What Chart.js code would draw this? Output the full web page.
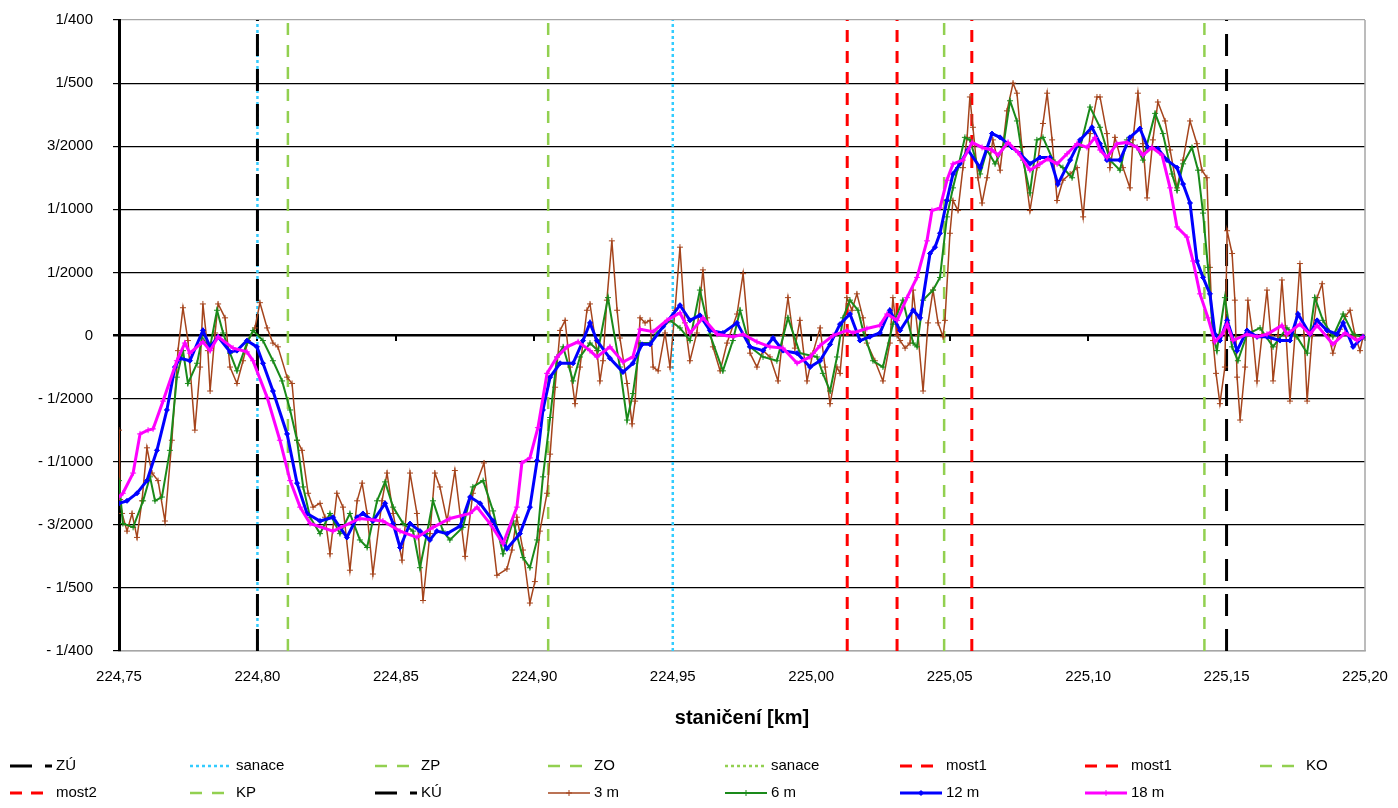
<!DOCTYPE html>
<html><head><meta charset="utf-8">
<script src="https://cdn.jsdelivr.net/npm/chart.js@4/dist/chart.umd.min.js"></script>
<style>html,body{margin:0;padding:0;background:#fff;}canvas{display:block}</style>
</head><body>
<canvas id="c" width="1398" height="808"></canvas>
<script>
// ---------- axis ticks (values in per mille) ----------
const Y_TICK_VALUES = [-2.5,-2,-1.5,-1,-0.5,0,0.5,1,1.5,2,2.5];
const Y_TICK_LABELS = ['- 1/400','- 1/500','- 3/2000','- 1/1000','- 1/2000','0','1/2000','1/1000','3/2000','1/500','1/400'];
const X_TICK_VALUES = [224.75,224.80,224.85,224.90,224.95,225.00,225.05,225.10,225.15,225.20];
const X_TICK_LABELS = ['224,75','224,80','224,85','224,90','224,95','225,00','225,05','225,10','225,15','225,20'];
const X_TITLE = 'staničení [km]';

// ---------- vertical marker lines (km) ----------
const MARKER_LABELS = ['ZÚ','sanace','ZP','ZO','sanace','most1','most1','KO','most2','KP','KÚ'];
const MARKER_KM = [[224.800],[224.800,224.950],[224.811],[224.905],[],[225.013],[225.031],[225.048],[225.058],[225.142],[225.150]];

// ---------- measured series ----------
const SERIES_LABELS = ['3 m','6 m','12 m','18 m'];

const S3_KM = [
224.7500,224.7504,224.7511,224.7529,224.7547,224.7565,224.7583,224.7601,224.7619,224.7641,
224.7666,224.7691,224.7713,224.7731,224.7749,224.7774,224.7793,224.7803,224.7821,224.7829,
224.7847,224.7858,224.7883,224.7901,224.7926,224.7948,224.7966,224.7991,224.8009,224.8035,
224.8056,224.8074,224.8107,224.8125,224.8143,224.8161,224.8183,224.8201,224.8226,224.8244,
224.8262,224.8287,224.8309,224.8334,224.8360,224.8378,224.8396,224.8417,224.8450,224.8468,
224.8490,224.8522,224.8551,224.8576,224.8598,224.8623,224.8641,224.8659,224.8685,224.8713,
224.8750,224.8778,224.8818,224.8865,224.8901,224.8919,224.8937,224.8959,224.8984,224.9002,
224.9020,224.9046,224.9057,224.9075,224.9093,224.9111,224.9129,224.9147,224.9165,224.9190,
224.9201,224.9226,224.9237,224.9248,224.9262,224.9280,224.9299,224.9309,224.9335,224.9353,
224.9364,224.9382,224.9400,224.9418,224.9429,224.9447,224.9472,224.9490,224.9508,224.9526,
224.9544,224.9562,224.9587,224.9609,224.9624,224.9645,224.9671,224.9696,224.9732,224.9754,
224.9779,224.9804,224.9826,224.9851,224.9880,224.9898,224.9916,224.9941,224.9959,224.9985,
225.0006,225.0032,225.0050,225.0068,225.0093,225.0104,225.0129,225.0147,225.0165,225.0187,
225.0201,225.0230,225.0259,225.0284,225.0295,225.0310,225.0321,225.0339,225.0357,225.0368,
225.0386,225.0404,225.0422,225.0440,225.0458,225.0476,225.0483,225.0501,225.0512,225.0530,
225.0548,225.0563,225.0573,225.0584,225.0602,225.0617,225.0635,225.0656,225.0682,225.0707,
225.0729,225.0743,225.0761,225.0790,225.0815,225.0837,225.0852,225.0870,225.0888,225.0909,
225.0935,225.0960,225.0982,225.1007,225.1032,225.1043,225.1068,225.1079,225.1097,225.1126,
225.1151,225.1162,225.1180,225.1198,225.1213,225.1234,225.1252,225.1278,225.1296,225.1321,
225.1343,225.1368,225.1393,225.1411,225.1429,225.1440,225.1451,225.1462,225.1476,225.1494,
225.1502,225.1520,225.1530,225.1538,225.1549,225.1567,225.1577,225.1595,225.1610,225.1628,
225.1646,225.1660,225.1668,225.1686,225.1700,225.1715,225.1729,225.1747,225.1765,225.1780,
225.1791,225.1809,225.1827,225.1845,225.1863,225.1884,225.1910,225.1928,225.1946,225.1964,
225.1982,225.1993];
const S3_VAL = [
-0.75,-1.3,-1.41,-1.55,-1.41,-1.6,-1.31,-0.89,-1.09,-1.15,
-1.47,-0.83,-0.12,0.22,-0.04,-0.75,-0.25,0.25,-0.12,-0.44,
0.02,0.25,0.14,-0.25,-0.38,-0.2,-0.04,0.06,0.26,0.06,
-0.06,-0.09,-0.33,-0.38,-0.83,-0.91,-1.25,-1.36,-1.33,-1.44,
-1.73,-1.25,-1.36,-1.86,-1.31,-1.17,-1.41,-1.89,-1.31,-1.09,
-1.41,-1.78,-1.09,-1.41,-2.1,-1.57,-1.09,-1.2,-1.47,-1.07,
-1.75,-1.25,-1.01,-1.9,-1.85,-1.7,-1.44,-1.7,-2.12,-1.95,
-1.55,-1.25,-0.94,-0.41,0.04,0.12,-0.25,-0.54,-0.25,0.2,
0.25,-0.12,-0.36,-0.2,0.28,0.75,0.2,-0.02,-0.38,-0.7,
-0.52,0.14,0.1,0.12,-0.25,-0.28,0.02,-0.25,0.2,0.7,
0.1,-0.2,0.02,0.52,0.14,-0.09,-0.28,-0.06,0.17,0.49,
-0.14,-0.25,-0.12,-0.17,-0.36,0.0,0.3,-0.1,0.12,-0.36,
-0.14,0.06,-0.25,-0.54,-0.25,-0.3,0.3,0.2,0.33,0.14,
-0.06,-0.2,-0.36,-0.06,0.3,0.0,-0.04,-0.1,-0.06,0.36,
0.0,-0.44,0.1,0.36,0.1,-0.01,0.12,0.81,1.07,0.99,
1.33,1.57,1.89,1.65,1.25,1.05,1.25,1.55,1.31,1.78,
2.0,1.92,1.49,0.99,1.33,1.68,1.92,1.55,1.07,1.23,
1.28,1.33,0.94,1.6,1.89,1.89,1.6,1.33,1.57,1.33,
1.17,1.55,1.92,1.52,1.09,1.55,1.85,1.7,1.47,1.17,
1.39,1.7,1.52,1.31,1.25,0.54,-0.04,-0.3,-0.54,-0.25,
0.83,0.65,0.28,-0.33,-0.67,-0.25,0.28,0.0,-0.36,0.0,
0.36,0.0,-0.36,0.0,0.44,0.0,-0.52,0.0,0.57,0.0,
-0.52,0.0,0.3,0.41,0.05,-0.14,0.05,0.15,0.2,0.0,
-0.12,-0.01];

const S6_KM = [
224.7500,224.7514,224.7551,224.7587,224.7612,224.7630,224.7655,224.7684,224.7709,224.7731,
224.7749,224.7782,224.7800,224.7829,224.7854,224.7876,224.7901,224.7926,224.7962,224.7984,
224.8020,224.8056,224.8089,224.8118,224.8143,224.8165,224.8190,224.8226,224.8262,224.8298,
224.8334,224.8370,224.8396,224.8432,224.8461,224.8490,224.8526,224.8562,224.8587,224.8612,
224.8634,224.8670,224.8695,224.8742,224.8778,224.8815,224.8851,224.8887,224.8923,224.8959,
224.8984,224.9010,224.9031,224.9057,224.9082,224.9104,224.9140,224.9165,224.9201,224.9230,
224.9266,224.9309,224.9335,224.9356,224.9382,224.9418,224.9443,224.9490,224.9526,224.9562,
224.9598,224.9634,224.9681,224.9717,224.9743,224.9779,224.9826,224.9876,224.9916,224.9959,
225.0021,225.0042,225.0068,225.0093,225.0115,225.0140,225.0169,225.0187,225.0223,225.0259,
225.0295,225.0331,225.0368,225.0382,225.0404,225.0440,225.0465,225.0490,225.0512,225.0530,
225.0555,225.0573,225.0610,225.0635,225.0664,225.0693,225.0718,225.0743,225.0765,225.0790,
225.0815,225.0837,225.0873,225.0909,225.0942,225.0971,225.1007,225.1043,225.1079,225.1115,
225.1140,225.1177,225.1198,225.1242,225.1270,225.1303,225.1321,225.1343,225.1375,225.1397,
225.1415,225.1433,225.1451,225.1465,225.1494,225.1520,225.1541,225.1574,225.1621,225.1668,
225.1718,225.1754,225.1791,225.1819,225.1848,225.1884,225.1921,225.1957,225.1989];
const S6_VAL = [
-1.15,-1.49,-1.52,-1.31,-1.12,-1.31,-1.28,-0.91,-0.33,-0.12,
-0.38,-0.22,-0.02,-0.09,0.2,0.02,-0.14,-0.28,-0.06,0.04,
-0.04,-0.2,-0.36,-0.59,-0.83,-1.2,-1.44,-1.57,-1.41,-1.57,
-1.41,-1.62,-1.68,-1.31,-1.16,-1.36,-1.49,-1.55,-1.84,-1.57,
-1.31,-1.55,-1.62,-1.52,-1.2,-1.15,-1.39,-1.73,-1.47,-1.76,
-1.84,-1.62,-1.12,-0.65,-0.17,-0.09,-0.36,-0.17,-0.06,-0.12,
0.3,-0.25,-0.67,-0.46,-0.06,-0.06,0.02,0.12,0.06,-0.04,
0.36,0.01,-0.28,-0.04,0.2,-0.09,-0.17,-0.2,0.14,-0.14,
-0.17,-0.3,-0.44,-0.17,0.14,0.28,0.2,0.04,-0.2,-0.25,
0.09,0.28,-0.06,-0.09,0.28,0.36,0.46,0.94,1.17,1.33,
1.57,1.55,1.28,1.47,1.36,1.49,1.86,1.7,1.39,1.13,
1.55,1.57,1.39,1.33,1.25,1.49,1.81,1.65,1.39,1.31,
1.55,1.49,1.39,1.76,1.6,1.28,1.15,1.36,1.49,1.31,
0.97,0.54,0.01,-0.12,0.3,-0.09,-0.2,0.01,0.06,-0.09,
0.06,-0.01,-0.14,0.3,0.12,-0.01,0.17,0.01,-0.01];

const S12_KM = [
224.7500,224.7529,224.7565,224.7601,224.7637,224.7673,224.7702,224.7720,224.7756,224.7803,
224.7829,224.7858,224.7901,224.7926,224.7962,224.7998,224.8020,224.8056,224.8107,224.8143,
224.8179,224.8226,224.8273,224.8323,224.8360,224.8381,224.8417,224.8461,224.8490,224.8515,
224.8551,224.8587,224.8623,224.8648,224.8685,224.8732,224.8768,224.8804,224.8851,224.8901,
224.8948,224.8984,224.9010,224.9031,224.9057,224.9093,224.9140,224.9176,224.9201,224.9226,
224.9273,224.9320,224.9356,224.9389,224.9418,224.9465,224.9526,224.9562,224.9598,224.9634,
224.9681,224.9732,224.9779,224.9826,224.9862,224.9898,224.9949,224.9996,225.0032,225.0068,
225.0104,225.0140,225.0176,225.0212,225.0248,225.0284,225.0321,225.0368,225.0393,225.0429,
225.0447,225.0465,225.0490,225.0512,225.0537,225.0566,225.0610,225.0653,225.0682,225.0725,
225.0754,225.0790,225.0826,225.0862,225.0891,225.0935,225.0971,225.1014,225.1043,225.1068,
225.1115,225.1151,225.1187,225.1216,225.1252,225.1285,225.1321,225.1343,225.1368,225.1393,
225.1415,225.1440,225.1458,225.1476,225.1502,225.1538,225.1574,225.1610,225.1646,225.1693,
225.1729,225.1758,225.1801,225.1827,225.1863,225.1899,225.1921,225.1957,225.1993];
const S12_VAL = [
-1.33,-1.31,-1.25,-1.15,-0.91,-0.59,-0.25,-0.18,-0.2,0.04,
-0.09,-0.01,-0.13,-0.12,-0.04,-0.09,-0.22,-0.44,-0.78,-1.17,
-1.41,-1.47,-1.44,-1.6,-1.44,-1.41,-1.47,-1.33,-1.49,-1.68,
-1.49,-1.55,-1.62,-1.55,-1.57,-1.51,-1.28,-1.33,-1.47,-1.69,
-1.57,-1.36,-0.99,-0.59,-0.33,-0.22,-0.22,-0.04,0.1,-0.04,
-0.18,-0.29,-0.22,-0.07,-0.07,0.07,0.24,0.12,0.16,0.04,
0.02,0.1,-0.09,-0.12,-0.02,-0.12,-0.14,-0.25,-0.2,-0.07,
0.09,0.17,-0.04,-0.01,0.02,0.2,0.04,0.2,0.14,0.65,
0.7,0.81,1.07,1.28,1.36,1.47,1.33,1.6,1.57,1.49,
1.44,1.36,1.41,1.41,1.2,1.39,1.55,1.65,1.52,1.39,
1.39,1.57,1.64,1.49,1.48,1.39,1.33,1.2,1.05,0.59,
0.46,0.33,0.01,-0.04,0.12,-0.12,0.04,-0.01,-0.01,-0.04,
-0.04,0.17,0.01,0.12,0.04,0.01,0.1,-0.09,-0.01];

const S18_KM = [
224.7500,224.7514,224.7551,224.7576,224.7605,224.7623,224.7659,224.7709,224.7738,224.7756,
224.7803,224.7829,224.7858,224.7912,224.7962,224.7984,224.8035,224.8081,224.8118,224.8154,
224.8190,224.8273,224.8370,224.8453,224.8515,224.8576,224.8634,224.8695,224.8768,224.8793,
224.8840,224.8887,224.8937,224.8955,224.8984,224.9013,224.9046,224.9082,224.9118,224.9158,
224.9201,224.9226,224.9273,224.9320,224.9356,224.9382,224.9429,224.9479,224.9526,224.9562,
224.9609,224.9660,224.9717,224.9754,224.9804,224.9851,224.9898,224.9949,224.9996,225.0032,
225.0079,225.0129,225.0151,225.0201,225.0248,225.0274,225.0310,225.0346,225.0382,225.0418,
225.0436,225.0465,225.0490,225.0512,225.0548,225.0581,225.0617,225.0653,225.0675,225.0711,
225.0747,225.0790,225.0826,225.0855,225.0888,225.0924,225.0960,225.0996,225.1025,225.1043,
225.1068,225.1104,225.1140,225.1177,225.1198,225.1231,225.1267,225.1296,225.1321,225.1357,
225.1379,225.1404,225.1433,225.1458,225.1484,225.1502,225.1523,225.1574,225.1610,225.1646,
225.1700,225.1718,225.1765,225.1801,225.1827,225.1884,225.1928,225.1971,225.1993];
const S18_VAL = [
-1.28,-1.25,-1.09,-0.78,-0.75,-0.74,-0.52,-0.2,-0.06,-0.14,
-0.05,-0.12,-0.01,-0.1,-0.13,-0.2,-0.49,-0.83,-1.15,-1.36,
-1.49,-1.55,-1.45,-1.47,-1.55,-1.6,-1.52,-1.45,-1.41,-1.36,
-1.49,-1.65,-1.36,-1.01,-0.97,-0.73,-0.3,-0.17,-0.09,-0.05,
-0.12,-0.17,-0.09,-0.21,-0.17,0.05,0.03,0.12,0.18,0.02,
0.14,0.01,-0.01,0.01,-0.05,-0.09,-0.1,-0.22,-0.17,-0.08,
0.0,0.04,0.02,0.055,0.08,0.17,0.12,0.3,0.46,0.75,
0.99,1.01,1.23,1.36,1.39,1.53,1.49,1.47,1.43,1.53,
1.45,1.31,1.36,1.40,1.36,1.44,1.52,1.49,1.57,1.47,
1.41,1.52,1.53,1.49,1.43,1.49,1.43,1.17,0.86,0.78,
0.59,0.33,0.14,-0.05,0.01,0.09,-0.04,0.01,-0.01,0.01,
0.08,0.01,0.09,0.01,0.08,-0.07,0.02,-0.04,-0.01];

// ---------- styles (kept separate from data) ----------
const Y_MIN = -2.5, Y_MAX = 2.5;
const MARKER_STYLES = [
  {color:'#000000', width:3, dash:[22,13]},
  {color:'#33CCFF', width:2.5, dash:[3,3]},
  {color:'#92D050', width:2.5, dash:[12,10]},
  {color:'#92D050', width:2.5, dash:[12,10]},
  {color:'#92D050', width:2.5, dash:[3,3]},
  {color:'#FF0000', width:3, dash:[12,9]},
  {color:'#FF0000', width:3, dash:[12,9]},
  {color:'#92D050', width:2.5, dash:[12,10]},
  {color:'#FF0000', width:3, dash:[12,9]},
  {color:'#92D050', width:2.5, dash:[12,10]},
  {color:'#000000', width:3, dash:[22,13]}
];
const SERIES_STYLES = [
  {color:'#A5441C', width:1.5, point:'cross', r:3},
  {color:'#1A8A1A', width:2, point:'cross', r:3},
  {color:'#0000FF', width:3, point:'rectRot', r:2.5},
  {color:'#FF00FF', width:3, point:'cross', r:3}
];
const LEGEND_COLS = [10,190,375,548,725,900,1085,1260];
const LEGEND_ROWS = [766,793];
const FONT = '"Liberation Sans", Arial, sans-serif';

// ---------- build datasets ----------
const datasets = [];
const legendItems = [];
MARKER_LABELS.forEach((lab,i)=>{
  const pts = [];
  MARKER_KM[i].forEach((k,j)=>{
    if (j>0) pts.push({x:k, y:null});
    pts.push({x:k, y:Y_MIN}); pts.push({x:k, y:Y_MAX});
  });
  const st = MARKER_STYLES[i];
  const ds = {label:lab, data:pts, borderColor:st.color, backgroundColor:st.color, borderWidth:st.width,
    borderDash:st.dash, pointRadius:0, order:10, spanGaps:false, borderCapStyle:'butt'};
  datasets.push(ds); legendItems.push(ds);
});
const seriesData = [[S3_KM,S3_VAL],[S6_KM,S6_VAL],[S12_KM,S12_VAL],[S18_KM,S18_VAL]];
seriesData.forEach(([xs,ys],i)=>{
  const st = SERIES_STYLES[i];
  const ds = {label:SERIES_LABELS[i], data:xs.map((x,j)=>({x, y:ys[j]})), borderColor:st.color,
    backgroundColor:st.color, borderWidth:st.width, pointStyle:st.point, pointRadius:st.r,
    pointBorderWidth:1, pointBorderColor:st.color, pointBackgroundColor:st.color,
    tension:0, order:4-i};
  datasets.push(ds); legendItems.push(ds);
});

// ---------- plugins ----------
const frame = {
  id:'frame',
  beforeDatasetsDraw(chart){
    const {ctx, chartArea:a} = chart;
    ctx.save(); ctx.strokeStyle='#A6A6A6'; ctx.lineWidth=1.5;
    ctx.beginPath(); ctx.moveTo(a.right, a.top); ctx.lineTo(a.right, a.bottom); ctx.stroke();
    ctx.restore();
  }
};
const gridLegend = {
  id:'gridLegend',
  afterDraw(chart){
    const ctx = chart.ctx;
    legendItems.forEach((ds,i)=>{
      const col = i % 8, row = Math.floor(i/8);
      const x0 = LEGEND_COLS[col], y = LEGEND_ROWS[row];
      ctx.save();
      ctx.strokeStyle = ds.borderColor; ctx.lineWidth = Math.min(ds.borderWidth,3);
      ctx.setLineDash(ds.borderDash || []);
      ctx.beginPath(); ctx.moveTo(x0, y); ctx.lineTo(x0+42, y); ctx.stroke();
      ctx.setLineDash([]);
      if (ds.pointRadius > 0) {
        ctx.fillStyle = ds.borderColor; ctx.strokeStyle = ds.borderColor; ctx.lineWidth = 1;
        Chart.helpers.drawPoint(ctx, {pointStyle:ds.pointStyle, radius:ds.pointRadius, borderWidth:1, rotation:0}, x0+21, y);
      }
      ctx.fillStyle = '#000'; ctx.font = '15px ' + FONT; ctx.textBaseline = 'middle'; ctx.textAlign='left';
      ctx.fillText(ds.label, x0+46, y);
      ctx.restore();
    });
  }
};

new Chart(document.getElementById('c'), {
  type:'line',
  data:{datasets},
  plugins:[frame, gridLegend],
  options:{
    responsive:false, animation:false, devicePixelRatio:1, events:[],
    parsing:true,
    layout:{padding:{left:0, top:20, right:33, bottom:0}},
    plugins:{legend:{display:false}, tooltip:{enabled:false}},
    scales:{
      x:{
        type:'linear', position:'bottom', min:224.75, max:225.20,
        afterBuildTicks:s=>{s.ticks = X_TICK_VALUES.map(v=>({value:v}));},
        afterFit:s=>{s.height = 157; s.paddingLeft = 0; s.paddingRight = 0;},
        grid:{display:false, drawTicks:false},
        border:{display:true, color:'#A6A6A6', width:1.5},
        ticks:{padding:17, color:'#000', font:{family:FONT, size:15}, maxRotation:0,
          callback:(v,i)=>X_TICK_LABELS[i]},
        title:{display:true, text:X_TITLE, color:'#000', font:{family:FONT, size:20, weight:'bold'},
          padding:{top:0, bottom:78}}
      },
      xz:{
        type:'linear', position:{y:0}, min:224.75, max:225.20,
        afterBuildTicks:s=>{s.ticks = X_TICK_VALUES.map(v=>({value:v}));},
        afterFit:s=>{s.paddingLeft = 0; s.paddingRight = 0;},
        grid:{display:true, drawOnChartArea:false, drawTicks:true, tickLength:5, color:'#000', tickColor:'#000', lineWidth:2},
        border:{display:false},
        ticks:{display:false}
      },
      y:{
        type:'linear', min:Y_MIN, max:Y_MAX,
        afterBuildTicks:s=>{s.ticks = Y_TICK_VALUES.map(v=>({value:v}));},
        afterFit:s=>{s.width = 119; s.paddingTop = 0; s.paddingBottom = 0;},
        grid:{
          color:c=> (c.tick && (c.tick.value===Y_MAX || c.tick.value===Y_MIN)) ? '#A6A6A6' : '#000',
          lineWidth:c=> (c.tick && c.tick.value===0) ? 2.5 : 1.2,
          tickColor:'#000', tickLength:6, drawTicks:true
        },
        border:{display:true, color:'#000', width:3},
        ticks:{padding:20, color:'#000', font:{family:FONT, size:15},
          callback:v=>{const i = Y_TICK_VALUES.findIndex(t=>Math.abs(t-v)<1e-9); return i>=0 ? Y_TICK_LABELS[i] : '';}}
      }
    }
  }
});
</script>
</body></html>
